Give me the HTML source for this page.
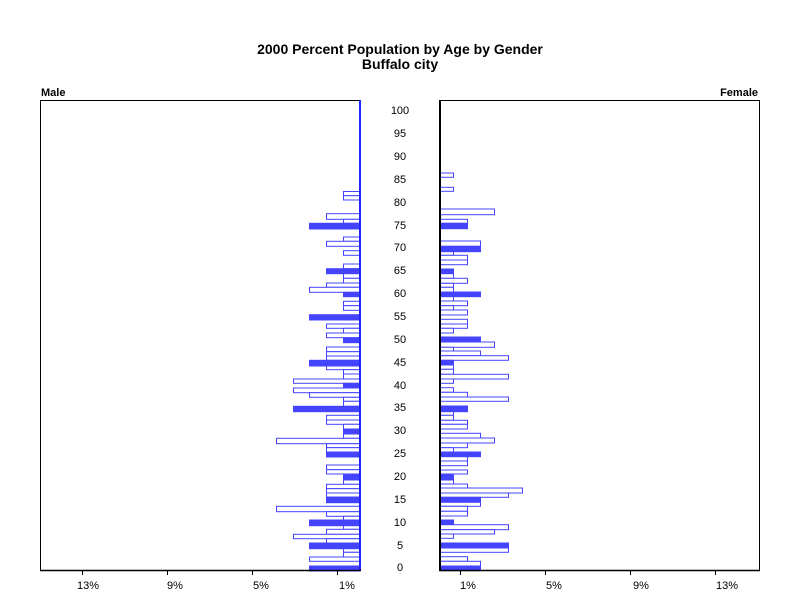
<!DOCTYPE html>
<html><head><meta charset="utf-8"><style>
html,body{margin:0;padding:0;background:#fff;}
svg{display:block;}
text{font-family:"Liberation Sans",sans-serif;fill:#000;}
</style></head><body>
<svg width="800" height="600" viewBox="0 0 800 600" xmlns="http://www.w3.org/2000/svg">
<text x="400" y="54" font-size="14" font-weight="bold" text-anchor="middle">2000 Percent Population by Age by Gender</text>
<text x="400" y="69" font-size="14" font-weight="bold" text-anchor="middle">Buffalo city</text>
<text x="41" y="96" font-size="11" font-weight="bold">Male</text>
<text x="758" y="96" font-size="11" font-weight="bold" text-anchor="end">Female</text>
<rect x="40.5" y="100.5" width="320" height="470" fill="none" stroke="#000"/>
<rect x="439.5" y="100.5" width="320" height="470" fill="none" stroke="#000"/>
<g id="L" stroke="#4444ff" stroke-width="1">
<rect x="343.5" y="191.5" width="16" height="4.2" fill="#fff"/>
<rect x="343.5" y="195.7" width="16" height="4.3" fill="#fff"/>
<rect x="326.5" y="213.7" width="33" height="5.6" fill="#fff"/>
<rect x="343.5" y="219.3" width="16" height="4" fill="#fff"/>
<rect x="309.5" y="223.3" width="50" height="5.7" fill="#4444ff"/>
<rect x="343.5" y="237" width="16" height="4.3" fill="#fff"/>
<rect x="326.5" y="241.3" width="33" height="5" fill="#fff"/>
<rect x="343.5" y="250.7" width="16" height="4.6" fill="#fff"/>
<rect x="343.5" y="264" width="16" height="4.7" fill="#fff"/>
<rect x="326.5" y="268.7" width="33" height="5" fill="#4444ff"/>
<rect x="343.5" y="273.7" width="16" height="4.6" fill="#fff"/>
<rect x="343.5" y="278.3" width="16" height="4.7" fill="#fff"/>
<rect x="326.5" y="283" width="33" height="4.3" fill="#fff"/>
<rect x="309.5" y="287.3" width="50" height="5" fill="#fff"/>
<rect x="343.5" y="292.3" width="16" height="4.4" fill="#4444ff"/>
<rect x="343.5" y="301.3" width="16" height="4.4" fill="#fff"/>
<rect x="343.5" y="305.7" width="16" height="4.6" fill="#fff"/>
<rect x="309.5" y="314.7" width="50" height="5.3" fill="#4444ff"/>
<rect x="326.5" y="324" width="33" height="4.3" fill="#fff"/>
<rect x="343.5" y="328.3" width="16" height="4.7" fill="#fff"/>
<rect x="326.5" y="333" width="33" height="4.7" fill="#fff"/>
<rect x="343.5" y="337.7" width="16" height="5" fill="#4444ff"/>
<rect x="326.5" y="347" width="33" height="4.7" fill="#fff"/>
<rect x="326.5" y="351.7" width="33" height="4.3" fill="#fff"/>
<rect x="326.5" y="356" width="33" height="4.3" fill="#fff"/>
<rect x="309.5" y="360.3" width="50" height="5.7" fill="#4444ff"/>
<rect x="326.5" y="366" width="33" height="3.7" fill="#fff"/>
<rect x="343.5" y="369.7" width="16" height="4.3" fill="#fff"/>
<rect x="343.5" y="374" width="16" height="5" fill="#fff"/>
<rect x="293.5" y="379" width="66" height="4.3" fill="#fff"/>
<rect x="343.5" y="383.3" width="16" height="4.7" fill="#4444ff"/>
<rect x="293.5" y="388" width="66" height="4.7" fill="#fff"/>
<rect x="309.5" y="392.7" width="50" height="4.6" fill="#fff"/>
<rect x="343.5" y="397.3" width="16" height="4" fill="#fff"/>
<rect x="343.5" y="401.3" width="16" height="5" fill="#fff"/>
<rect x="293.5" y="406.3" width="66" height="5.4" fill="#4444ff"/>
<rect x="326.5" y="415.3" width="33" height="4.7" fill="#fff"/>
<rect x="326.5" y="420" width="33" height="4.3" fill="#fff"/>
<rect x="343.5" y="424.3" width="16" height="4.7" fill="#fff"/>
<rect x="343.5" y="429" width="16" height="5" fill="#4444ff"/>
<rect x="343.5" y="434" width="16" height="4.3" fill="#fff"/>
<rect x="276.5" y="438.3" width="83" height="5.4" fill="#fff"/>
<rect x="326.5" y="443.7" width="33" height="4" fill="#fff"/>
<rect x="326.5" y="447.7" width="33" height="4.3" fill="#fff"/>
<rect x="326.5" y="452" width="33" height="5" fill="#4444ff"/>
<rect x="326.5" y="465" width="33" height="4.7" fill="#fff"/>
<rect x="326.5" y="469.7" width="33" height="4.3" fill="#fff"/>
<rect x="343.5" y="474" width="16" height="6" fill="#4444ff"/>
<rect x="343.5" y="480" width="16" height="4.3" fill="#fff"/>
<rect x="326.5" y="484.3" width="33" height="4.4" fill="#fff"/>
<rect x="326.5" y="488.7" width="33" height="4.3" fill="#fff"/>
<rect x="326.5" y="493" width="33" height="4" fill="#fff"/>
<rect x="326.5" y="497" width="33" height="5.7" fill="#4444ff"/>
<rect x="276.5" y="506.3" width="83" height="5.4" fill="#fff"/>
<rect x="326.5" y="511.7" width="33" height="4.6" fill="#fff"/>
<rect x="343.5" y="516.3" width="16" height="3.7" fill="#fff"/>
<rect x="309.5" y="520" width="50" height="5.7" fill="#4444ff"/>
<rect x="343.5" y="525.7" width="16" height="3.6" fill="#fff"/>
<rect x="326.5" y="529.3" width="33" height="5" fill="#fff"/>
<rect x="293.5" y="534.3" width="66" height="4.4" fill="#fff"/>
<rect x="326.5" y="538.7" width="33" height="4.3" fill="#fff"/>
<rect x="309.5" y="543" width="50" height="5.7" fill="#4444ff"/>
<rect x="343.5" y="548.7" width="16" height="3.6" fill="#fff"/>
<rect x="343.5" y="552.3" width="16" height="4.7" fill="#fff"/>
<rect x="309.5" y="557" width="50" height="4.3" fill="#fff"/>
<rect x="309.5" y="566" width="50" height="5" fill="#4444ff"/>
</g>
<g stroke="#4444ff" stroke-width="1">
<rect x="440.5" y="173" width="13" height="4.3" fill="#fff"/>
<rect x="440.5" y="187.3" width="13" height="4" fill="#fff"/>
<rect x="440.5" y="209" width="54" height="5.7" fill="#fff"/>
<rect x="440.5" y="219.3" width="27" height="4" fill="#fff"/>
<rect x="440.5" y="223.3" width="27" height="5.4" fill="#4444ff"/>
<rect x="440.5" y="241" width="40" height="5.3" fill="#fff"/>
<rect x="440.5" y="246.3" width="40" height="5.4" fill="#4444ff"/>
<rect x="440.5" y="251.7" width="13" height="3.6" fill="#fff"/>
<rect x="440.5" y="255.3" width="27" height="4.7" fill="#fff"/>
<rect x="440.5" y="260" width="27" height="4.7" fill="#fff"/>
<rect x="440.5" y="269" width="13" height="4.7" fill="#4444ff"/>
<rect x="440.5" y="273.7" width="13" height="4.6" fill="#fff"/>
<rect x="440.5" y="278.3" width="27" height="5" fill="#fff"/>
<rect x="440.5" y="283.3" width="13" height="4" fill="#fff"/>
<rect x="440.5" y="287.3" width="13" height="4.7" fill="#fff"/>
<rect x="440.5" y="292" width="40" height="4.7" fill="#4444ff"/>
<rect x="440.5" y="296.7" width="13" height="4.3" fill="#fff"/>
<rect x="440.5" y="301" width="27" height="4.7" fill="#fff"/>
<rect x="440.5" y="305.7" width="13" height="4.3" fill="#fff"/>
<rect x="440.5" y="310" width="27" height="5" fill="#fff"/>
<rect x="440.5" y="319.3" width="27" height="4.7" fill="#fff"/>
<rect x="440.5" y="324" width="27" height="4.3" fill="#fff"/>
<rect x="440.5" y="328.3" width="13" height="4.7" fill="#fff"/>
<rect x="440.5" y="337" width="40" height="5" fill="#4444ff"/>
<rect x="440.5" y="342" width="54" height="5.3" fill="#fff"/>
<rect x="440.5" y="347.3" width="13" height="3.7" fill="#fff"/>
<rect x="440.5" y="351" width="40" height="4.7" fill="#fff"/>
<rect x="440.5" y="355.7" width="68" height="4.6" fill="#fff"/>
<rect x="440.5" y="360.3" width="13" height="4.7" fill="#4444ff"/>
<rect x="440.5" y="365" width="13" height="4.3" fill="#fff"/>
<rect x="440.5" y="369.3" width="13" height="5" fill="#fff"/>
<rect x="440.5" y="374.3" width="68" height="4.7" fill="#fff"/>
<rect x="440.5" y="379" width="13" height="4.3" fill="#fff"/>
<rect x="440.5" y="387.7" width="13" height="4.6" fill="#fff"/>
<rect x="440.5" y="392.3" width="27" height="4.7" fill="#fff"/>
<rect x="440.5" y="397" width="68" height="4.3" fill="#fff"/>
<rect x="440.5" y="406" width="27" height="5.7" fill="#4444ff"/>
<rect x="440.5" y="411.7" width="13" height="3.6" fill="#fff"/>
<rect x="440.5" y="415.3" width="13" height="5" fill="#fff"/>
<rect x="440.5" y="420.3" width="27" height="4" fill="#fff"/>
<rect x="440.5" y="424.3" width="27" height="4.7" fill="#fff"/>
<rect x="440.5" y="433.3" width="40" height="4.7" fill="#fff"/>
<rect x="440.5" y="438" width="54" height="5" fill="#fff"/>
<rect x="440.5" y="443" width="27" height="4.7" fill="#fff"/>
<rect x="440.5" y="447.7" width="13" height="4.3" fill="#fff"/>
<rect x="440.5" y="452" width="40" height="4.7" fill="#4444ff"/>
<rect x="440.5" y="456.7" width="27" height="4.3" fill="#fff"/>
<rect x="440.5" y="461" width="27" height="4.7" fill="#fff"/>
<rect x="440.5" y="470" width="27" height="4" fill="#fff"/>
<rect x="440.5" y="474" width="13" height="6" fill="#4444ff"/>
<rect x="440.5" y="480" width="13" height="4" fill="#fff"/>
<rect x="440.5" y="484" width="27" height="4" fill="#fff"/>
<rect x="440.5" y="488" width="82" height="5" fill="#fff"/>
<rect x="440.5" y="493" width="68" height="4.3" fill="#fff"/>
<rect x="440.5" y="497.3" width="40" height="5" fill="#4444ff"/>
<rect x="440.5" y="502.3" width="40" height="4" fill="#fff"/>
<rect x="440.5" y="506.3" width="27" height="5" fill="#fff"/>
<rect x="440.5" y="511.3" width="27" height="4.7" fill="#fff"/>
<rect x="440.5" y="520" width="13" height="4.7" fill="#4444ff"/>
<rect x="440.5" y="524.7" width="68" height="5" fill="#fff"/>
<rect x="440.5" y="529.7" width="54" height="4.3" fill="#fff"/>
<rect x="440.5" y="534" width="13" height="4.3" fill="#fff"/>
<rect x="440.5" y="543" width="68" height="5" fill="#4444ff"/>
<rect x="440.5" y="548" width="68" height="4.3" fill="#fff"/>
<rect x="440.5" y="556.7" width="27" height="4.6" fill="#fff"/>
<rect x="440.5" y="561.3" width="40" height="4.7" fill="#fff"/>
<rect x="440.5" y="566" width="40" height="4.7" fill="#4444ff"/>
</g>
<line x1="360" y1="100" x2="360" y2="571" stroke="#2222ff" stroke-width="2"/>
<line x1="440" y1="100" x2="440" y2="571" stroke="#000" stroke-width="2"/>
<line x1="40" y1="570.5" x2="361" y2="570.5" stroke="#000" stroke-width="1.5"/>
<line x1="439" y1="570.5" x2="760" y2="570.5" stroke="#000" stroke-width="1.5"/>
<g stroke="#000" stroke-width="1">
<line x1="82.5" y1="570" x2="82.5" y2="575"/><line x1="167.5" y1="570" x2="167.5" y2="575"/><line x1="252.5" y1="570" x2="252.5" y2="575"/><line x1="337.5" y1="570" x2="337.5" y2="575"/>
<line x1="460.5" y1="570" x2="460.5" y2="575"/><line x1="545.5" y1="570" x2="545.5" y2="575"/><line x1="630.5" y1="570" x2="630.5" y2="575"/><line x1="715.5" y1="570" x2="715.5" y2="575"/>
</g>
<g font-size="11" text-anchor="middle">
<text x="88" y="589">13%</text><text x="175" y="589">9%</text><text x="261" y="589">5%</text><text x="347" y="589">1%</text>
<text x="468" y="589">1%</text><text x="554" y="589">5%</text><text x="641" y="589">9%</text><text x="727" y="589">13%</text>
</g>
<g font-size="11" text-anchor="middle">
<text x="400" y="114">100</text><text x="400" y="137">95</text><text x="400" y="160">90</text><text x="400" y="183">85</text><text x="400" y="206">80</text>
<text x="400" y="229">75</text><text x="400" y="251">70</text><text x="400" y="274">65</text><text x="400" y="297">60</text><text x="400" y="320">55</text>
<text x="400" y="343">50</text><text x="400" y="366">45</text><text x="400" y="389">40</text><text x="400" y="411">35</text><text x="400" y="434">30</text>
<text x="400" y="457">25</text><text x="400" y="480">20</text><text x="400" y="503">15</text><text x="400" y="526">10</text><text x="400" y="549">5</text><text x="400" y="571">0</text>
</g>
</svg>
</body></html>
